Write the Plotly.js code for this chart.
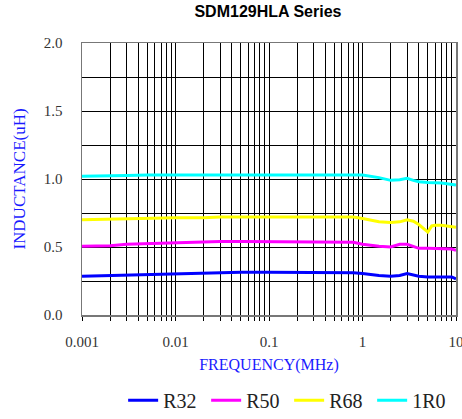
<!DOCTYPE html>
<html><head><meta charset="utf-8">
<script src="https://cdn.plot.ly/plotly-3.0.1.min.js"></script>
<style>html,body{margin:0;padding:0;background:#fff}#chart{width:462px;height:419px}</style>
</head><body><div id="chart"></div>
<script>
const freq = [0.001,0.002,0.003,0.005,0.01,0.02,0.03,0.05,0.1,0.2,0.3,0.5,0.8,1,1.5,2,2.5,3,3.5,4,5,5.5,6,7,8,9,10];
const R32 = [0.285,0.29,0.295,0.30,0.305,0.31,0.315,0.315,0.315,0.315,0.31,0.31,0.31,0.305,0.29,0.285,0.29,0.305,0.295,0.285,0.28,0.28,0.28,0.28,0.28,0.28,0.265];
const R50 = [0.505,0.51,0.52,0.525,0.53,0.535,0.54,0.54,0.54,0.535,0.535,0.535,0.535,0.52,0.505,0.50,0.52,0.52,0.505,0.49,0.49,0.49,0.49,0.485,0.485,0.485,0.475];
const R68 = [0.70,0.705,0.71,0.71,0.715,0.715,0.72,0.72,0.72,0.72,0.72,0.72,0.72,0.71,0.685,0.68,0.685,0.70,0.69,0.665,0.61,0.655,0.66,0.66,0.655,0.65,0.645];
const L1R0 = [1.02,1.02,1.025,1.03,1.03,1.03,1.035,1.035,1.035,1.035,1.035,1.035,1.035,1.03,1.01,0.99,0.995,1.005,0.99,0.98,0.975,0.975,0.975,0.97,0.965,0.96,0.955];
const seriesNames = ['R32','R50','R68','1R0'];
const seriesColors = ['#0000ff','#ff00ff','#ffff00','#00ffff'];
const seriesData = [R32,R50,R68,L1R0];
const xTickVals = [0.001,0.01,0.1,1,10];
const xTickText = ['0.001','0.01','0.1','1','10'];

const traces = seriesData.map((y,i)=>({
  x: freq, y: y, name: seriesNames[i], type:'scatter', mode:'lines',
  line:{color:seriesColors[i], width:3}
}));

const serif = 'Liberation Serif, Times New Roman, serif';
const layout = {
  width:462, height:419,
  margin:{l:82, r:6, t:43, b:104},
  paper_bgcolor:'#fff', plot_bgcolor:'#fff',
  title:{text:'<b>SDM129HLA Series</b>', font:{family:'Liberation Sans, Arial, sans-serif', size:16, color:'#000'}, x:0.58, xanchor:'center', y:0.985, yanchor:'top'},
  showlegend:true,
  legend:{orientation:'h', x:0.11, xanchor:'left', yref:'container', y:0.045, yanchor:'middle', font:{family:serif, size:20, color:'#222'}, entrywidth:38, entrywidthmode:'pixels', bgcolor:'rgba(0,0,0,0)'},
  xaxis:{
    type:'log', range:[-3,1], tickvals:xTickVals, ticktext:xTickText, automargin:false,
    ticklabeloverflow:'allow',
    showgrid:true, gridcolor:'#000', gridwidth:1,
    showline:true, linecolor:'#777', linewidth:1.5, mirror:true,
    ticks:'outside', ticklen:4, tickcolor:'#000', ticklabelstandoff:8,
    tickfont:{family:serif, size:15, color:'#333'},
    minor:{dtick:'D1', showgrid:true, gridcolor:'#000', gridwidth:1, ticks:'outside', ticklen:4, tickcolor:'#000'},
    title:{text:'FREQUENCY(MHz)', font:{family:serif, size:16, color:'#1a1aff'}, standoff:10},
    zeroline:false, fixedrange:true
  },
  yaxis:{
    range:[0,2], dtick:0.5, tickformat:'.1f', automargin:false,
    showgrid:true, gridcolor:'#000', gridwidth:1,
    showline:true, linecolor:'#777', linewidth:1.5, mirror:true,
    ticks:'', ticklabelstandoff:15,
    tickfont:{family:serif, size:15, color:'#333'},
    minor:{dtick:0.25, showgrid:true, gridcolor:'#000', gridwidth:1},
    title:{text:'INDUCTANCE(uH)', font:{family:serif, size:17, color:'#1a1aff'}, standoff:14},
    zeroline:false, fixedrange:true
  }
};
Plotly.newPlot('chart', traces, layout, {displayModeBar:false, staticPlot:true});
</script></body></html>
